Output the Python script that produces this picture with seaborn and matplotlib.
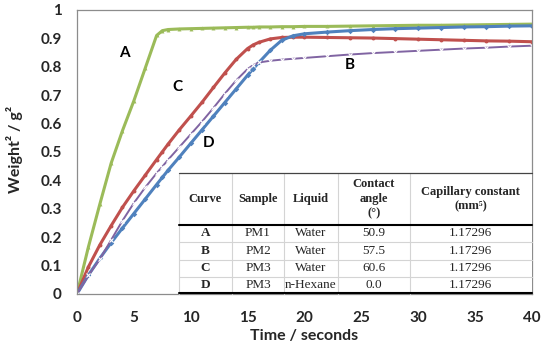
import pandas as pd
import matplotlib
matplotlib.use("Agg")
import matplotlib.pyplot as plt
import seaborn as sns
from matplotlib.patches import Rectangle
from matplotlib.ticker import FuncFormatter, MultipleLocator

# Values
time_s = [0, 1, 2, 3, 4, 5, 6, 7, 7.5, 8, 9, 10, 11, 12, 13, 14, 15, 15.5,
          16, 17, 18, 19, 20, 22, 24, 26, 28, 30, 32, 34, 36, 38, 40]

curve_a = [0, 0.165, 0.315, 0.46, 0.575, 0.68, 0.795, 0.91, 0.927,
           0.931, 0.933, 0.934, 0.935, 0.936, 0.937, 0.938, 0.939, 0.939,
           0.940, 0.940, 0.941, 0.941, 0.942, 0.942, 0.943, 0.944, 0.945,
           0.946, 0.946, 0.947, 0.948, 0.949, 0.950]
curve_b = [0, 0.065, 0.122, 0.19, 0.258, 0.32, 0.375, 0.425, 0.448,
           0.472, 0.517, 0.562, 0.607, 0.655, 0.705, 0.752, 0.792, 0.806,
           0.815, 0.821, 0.825, 0.828, 0.831, 0.837, 0.843, 0.848, 0.852,
           0.856, 0.860, 0.864, 0.867, 0.871, 0.874]
curve_c = [0, 0.095, 0.172, 0.24, 0.305, 0.363, 0.418, 0.473, 0.50,
           0.527, 0.578, 0.626, 0.675, 0.727, 0.778, 0.826, 0.864, 0.877,
           0.886, 0.898, 0.903, 0.904, 0.904, 0.903, 0.902, 0.901, 0.899,
           0.897, 0.895, 0.893, 0.891, 0.890, 0.888]
curve_d = [0, 0.066, 0.125, 0.18, 0.232, 0.283, 0.334, 0.385, 0.41,
           0.435, 0.482, 0.53, 0.578, 0.626, 0.674, 0.722, 0.77, 0.793,
           0.815, 0.858, 0.893, 0.909, 0.916, 0.922, 0.927, 0.931, 0.934,
           0.936, 0.938, 0.940, 0.941, 0.943, 0.944]

# table contents
table_header = ["Curve", "Sample", "Liquid", "Contact\nangle\n(°)",
                "Capillary constant\n(mm⁵)"]
table_rows = [
    ["A", "PM1", "Water", "50.9", "1.17296"],
    ["B", "PM2", "Water", "57.5", "1.17296"],
    ["C", "PM3", "Water", "60.6", "1.17296"],
    ["D", "PM3", "n-Hexane", "0.0", "1.17296"],
]

colors = {"A": "#9BBB59", "B": "#8064A2", "C": "#C0504D", "D": "#4F81BD"}
markers = {"A": "^", "B": "x", "C": "o", "D": "D"}

sns.set_theme(style="white")
plt.rcParams["font.family"] = ["Lato", "DejaVu Sans"]

df = pd.DataFrame({"time": time_s, "A": curve_a, "B": curve_b,
                   "C": curve_c, "D": curve_d})
long_df = df.melt(id_vars="time", var_name="curve", value_name="weight")

fig = plt.figure(figsize=(5.5, 3.52), dpi=100)
ax = fig.add_axes([0.14, 0.165, 0.827, 0.8068])

for name in ["A", "C", "D", "B"]:
    sub = long_df[long_df["curve"] == name]
    thin = name == "B"
    sns.lineplot(data=sub, x="time", y="weight", ax=ax, color=colors[name],
                 linewidth=1.4 if thin else 2.2, marker=markers[name],
                 markersize=3.5 if thin else 2.8,
                 markeredgewidth=0.8 if thin else 0, legend=False)

ax.set_xlim(0, 40)
ax.set_ylim(0, 1)
ax.xaxis.set_major_locator(MultipleLocator(5))
ax.yaxis.set_major_locator(MultipleLocator(0.1))
ax.yaxis.set_major_formatter(FuncFormatter(lambda v, p: f"{v:g}"))
ax.tick_params(length=0, labelsize=11)
ax.tick_params(axis="y", pad=11)
ax.tick_params(axis="x", pad=12)
for lab in ax.get_xticklabels() + ax.get_yticklabels():
    lab.set_fontweight("bold")
for sp in ax.spines.values():
    sp.set_color("#8c8c8c")
    sp.set_linewidth(0.9)

ax.set_xlabel("Time / seconds", fontsize=11.5, fontweight="bold")
ax.set_ylabel("Weight² / g²", fontsize=11.5, fontweight="bold")
ax.xaxis.set_label_coords(0.5, -0.125)
ax.yaxis.set_label_coords(-0.118, 0.507)

# curve letters
for txt, tx, wy in [("A", 4.2, 0.85), ("C", 8.8, 0.73),
                    ("D", 11.6, 0.53), ("B", 24.0, 0.806)]:
    ax.text(tx, wy, txt, fontsize=11, fontweight="bold", ha="center",
            va="center", color="black")

# table in lower right corner (axes coords)
col_edges = [0.224, 0.341, 0.455, 0.574, 0.732, 1.0]
row_edges = [0.426, 0.243, 0.183, 0.120, 0.060, 0.0]
tr = ax.transAxes
serif = ["Liberation Serif", "DejaVu Serif"]

ax.add_patch(Rectangle((col_edges[0], 0), 1 - col_edges[0], row_edges[0],
                       transform=tr, facecolor="white", edgecolor="none",
                       zorder=5))
for x in col_edges[:-1]:
    ax.plot([x, x], [0, row_edges[0]], transform=tr, color="#d4d4d4",
            lw=0.8, zorder=6, clip_on=False)
for y in row_edges[2:-1]:
    ax.plot([col_edges[0], 1], [y, y], transform=tr, color="#d4d4d4",
            lw=0.8, zorder=6, clip_on=False)
ax.plot([col_edges[0], 1], [row_edges[0]] * 2, transform=tr, color="#444444",
        lw=0.9, zorder=6, clip_on=False)
for y in [row_edges[1], 0.003]:
    ax.plot([col_edges[0], 1], [y, y], transform=tr, color="black",
            lw=1.5, zorder=6, clip_on=False)

centers = [(a + b) / 2 for a, b in zip(col_edges[:-1], col_edges[1:])]
head_y = (row_edges[0] + row_edges[1]) / 2
for cx, txt in zip(centers, table_header):
    ax.text(cx, head_y, txt, transform=tr, ha="center", va="center",
            fontsize=9, fontweight="bold", family=serif, linespacing=1.3,
            zorder=7)
for i, row in enumerate(table_rows):
    cy = (row_edges[i + 1] + row_edges[i + 2]) / 2
    for j, (cx, txt) in enumerate(zip(centers, row)):
        ax.text(cx, cy, txt, transform=tr, ha="center", va="center",
                fontsize=9.5, fontweight="bold" if j == 0 else "normal",
                family=serif, zorder=7)

fig.savefig("out.png", dpi=100)
